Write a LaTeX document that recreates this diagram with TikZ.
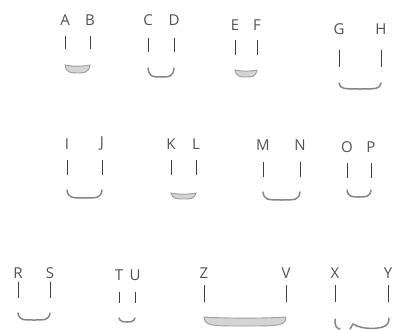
\documentclass[tikz,border=0pt]{standalone}
\usepackage{fontspec}
\setmainfont{Open Sans}
\tikzset{
  lbl/.style={font=\fontsize{15}{17}\selectfont, text=black!68, inner sep=0pt},
  barst/.style={draw=black!75, line width=1pt},
  arcst/.style={draw=black!48, line width=1.5pt, line cap=round},
  bowlst/.style={fill=black!17, draw=black!38, line width=0.9pt},
}
\newcommand\grpbase[7]{%
  \node[lbl] (#1#2-l) at (#3,#5) {#1};
  \node[lbl] (#1#2-r) at (#4,#5) {#2};
  \coordinate (#1#2-a1) at (#3,#6); \coordinate (#1#2-a2) at (#3,#7);
  \coordinate (#1#2-b1) at (#4,#6); \coordinate (#1#2-b2) at (#4,#7);
  \draw[barst] (#1#2-a1) -- (#1#2-a2);
  \draw[barst] (#1#2-b1) -- (#1#2-b2);}
\newcommand\grpU[9]{%
  \grpbase{#1}{#2}{#3}{#4}{#5}{#6}{#7}
  \draw[arcst] (#3,#8) .. controls (#3+1,#9) and (#3+5,#9) .. ({(#3+#4)/2},#9)
     .. controls (#4-5,#9) and (#4-1,#9) .. (#4,#8);}
\newcommand\grpF[9]{%
  \grpbase{#1}{#2}{#3}{#4}{#5}{#6}{#7}
  \draw[bowlst] (#3,#8) .. controls ({#3+0.3*(#4-#3)},#8+1.5) and ({#4-0.3*(#4-#3)},#8+1.5) .. (#4,#8)
     .. controls (#4-1,#9) and (#4-6,#9) .. ({(#3+#4)/2},#9)
     .. controls (#3+6,#9) and (#3+1,#9) .. cycle;}
\begin{document}
\begin{tikzpicture}[x=1pt,y=-1pt]
\useasboundingbox (0,0) rectangle (393,329);
% row 1
\grpF{A}{B}{65}{90}{20}{36}{49}{65}{73}
\grpU{C}{D}{148}{174}{20}{38}{52}{68}{77}
\grpF{E}{F}{235}{257}{25}{40}{55}{70}{77}
\grpU{G}{H}{339}{381}{29}{50}{67}{83}{89}
% row 2
\grpU{I}{J}{67}{102}{144}{160}{175}{190}{198}
\grpF{K}{L}{171}{196}{144}{160}{175}{193}{199}
\grpU{M}{N}{263}{300}{145}{162}{177}{192}{200}
\grpU{O}{P}{347}{371}{147}{163}{178}{190}{197}
% row 3
\grpU{R}{S}{18}{50}{273}{282}{298}{313}{320}
\grpU{T}{U}{119}{135}{275}{292}{303}{318}{322}
\grpF{Z}{V}{204}{286}{273}{285}{302}{317}{326}
\grpbase{X}{Y}{335}{388}{273}{285}{302}
\draw[arcst] (335,319) .. controls (335,326) and (336,328) .. (340,329);
\draw[arcst] (350,329) -- (353,324) .. controls (362,330) and (380,329) .. (385,326)
   .. controls (388,324) and (389,322) .. (389,318);
\end{tikzpicture}
\end{document}
